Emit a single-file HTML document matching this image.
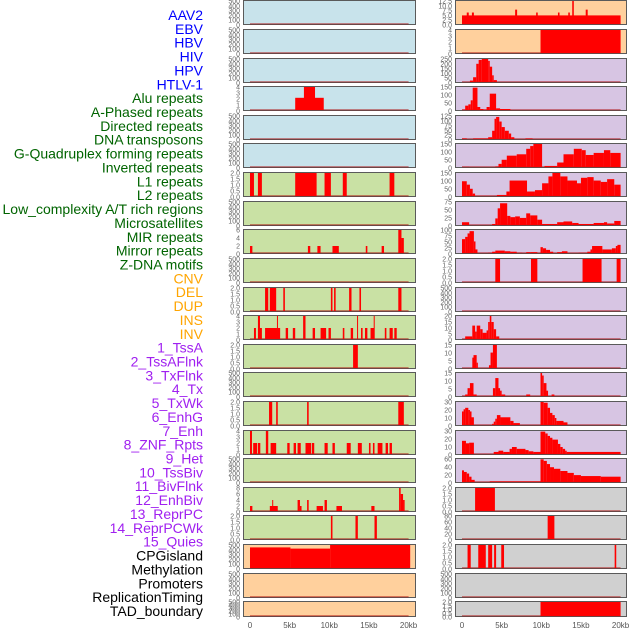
<!DOCTYPE html>
<html><head><meta charset="utf-8"><style>
html,body{margin:0;padding:0;background:#fff;}
#c{position:absolute;left:0;top:0;}
text{font-family:"Liberation Sans",sans-serif;}
</style></head><body>
<svg id="c" width="630" height="630" xmlns="http://www.w3.org/2000/svg"></svg>
<script>
const labelNames=["AAV2","EBV","HBV","HIV","HPV","HTLV-1","Alu repeats","A-Phased repeats","Directed repeats","DNA transposons","G-Quadruplex forming repeats","Inverted repeats","L1 repeats","L2 repeats","Low_complexity A/T rich regions","Microsatellites","MIR repeats","Mirror repeats","Z-DNA motifs","CNV","DEL","DUP","INS","INV","1_TssA","2_TssAFlnk","3_TxFlnk","4_Tx","5_TxWk","6_EnhG","7_Enh","8_ZNF_Rpts","9_Het","10_TssBiv","11_BivFlnk","12_EnhBiv","13_ReprPC","14_ReprPCWk","15_Quies","CPGisland","Methylation","Promoters","ReplicationTiming","TAD_boundary"];
const labelGroups=[6,13,5,15,5];
const groupColors=["#0000ff","#006400","#ffa500","#a020f0","#000000"];
const xTickLabels=["0","5kb","10kb","15kb","20kb"];
const xTickKb=[0,5,10,15,20];
const T500=["0","100","200","300","400","500"], T2=["0.0","0.5","1.0","1.5","2.0"], T4=["0","1","2","3","4"];
const leftBg=["b","b","b","b","b","b","g","g","g","g","g","g","g","g","g","g","g","g","g","o","o","o"];
const rightBg=["o","o","p","p","p","p","p","p","p","p","p","p","p","p","p","p","p","s","s","s","s","s"];
const leftMax=[500,500,500,4,500,500,2,500,6,500,2,4,2,500,2,4,500,8,2,500,500,500];
const rightMax=[12.5,4,250,180,130,175,175,95,105,2,500,20,19,19,33,39,76,2,80,2,500,2];
const leftTicks=[T500,T500,T500,T4,T500,T500,T2,T500,["0","2","4","6"],T500,T2,T4,T2,T500,T2,T4,T500,["0","2","4","6","8"],T2,T500,T500,T500];
const rightTicks=[["0.0","2.5","5.0","7.5","10.0","12.5"],T4,["0","50","100","150","200","250"],["0","50","100","150"],["0","25","50","75","100","125"],["0","50","100","150"],["0","50","100","150"],["0","25","50","75"],["0","25","50","75","100"],T2,T500,["0","5","10","15","20"],["0","5","10","15"],["0","5","10","15"],["0","10","20","30"],["0","10","20","30"],["0","20","40","60"],T2,["0","20","40","60","80"],T2,T500,T2];
const leftSegs=[[],[],[],
[[5.7,9.3,2.2],[6.8,8.2,4]],
[],[],
[[0,0.5,2],[1,1.5,2],[5.7,8.4,2],[9.4,10.2,2],[11.7,12.2,2],[17.6,18.2,2]],
[],
[[0,0.3,2],[7.3,7.6,2],[8.5,8.9,2],[10.4,11.2,2],[14.6,14.8,2],[16.6,16.9,2],[18.7,19.1,6],[19.1,19.4,4]],
[],
[[1.9,2.3,2],[2.5,3.3,2],[4.2,4.4,2],[10.2,10.4,2],[10.6,10.8,2],[12.5,12.8,2],[13.8,14,2],[18.7,19.1,2]],
[[0.5,0.75,2],[1.0,1.26,4],[1.26,1.5,2],[1.9,3.8,2],[3.4,3.5,4],[4.5,4.8,2],[5.4,5.7,2],[6.7,7.0,4],[7.9,8.2,2],[8.9,9.6,2],[9.9,10.2,2],[11.7,11.9,2],[12.7,13.0,2],[13.5,13.6,4],[14,14.2,2],[14.5,14.8,2],[15.2,15.7,2],[15.6,15.7,4],[17.0,17.2,2],[17.6,18.0,2],[18.2,18.5,2]],
[[13,13.6,2]],
[],
[[2.4,2.8,2],[3.3,3.5,2],[7.2,7.4,2],[18.7,19.4,2]],
[[0,0.25,4],[0.4,0.9,2],[1.0,1.3,2],[2.0,2.3,4],[2.6,3.3,2],[4.7,5.0,2],[5.5,5.8,2],[6.0,6.4,2],[7.0,7.7,2],[7.8,8.1,2],[9.4,9.8,2],[10.4,10.7,2],[12.2,12.7,2],[13.6,14.1,2],[15.0,15.2,2],[15.5,15.7,2],[16.1,16.7,2],[17.1,17.4,2],[17.6,17.9,2]],
[],
[[0,0.3,2],[2.5,3.5,2],[2.8,2.9,4],[6.0,6.3,4],[6.3,6.5,2],[7.2,7.4,4],[8.4,9.2,2],[9.4,9.7,4],[10.9,11.6,2],[15.3,15.7,2],[18.8,19.0,8],[19.0,19.3,6],[19.3,19.5,4]],
[[10.2,10.4,2],[13.3,13.6,2],[15.7,16.0,2]],
[[0,5.1,450],[5.1,10.1,425],[10.1,20.2,500]],
[],[]];
const rightSegs=[
[[0,20,5],[0.6,0.85,6.5],[1.25,1.5,6.5],[6.7,6.95,8],[9.35,9.55,6.5],[12.1,12.3,6.5],[13.4,13.6,6.5],[13.9,14.1,12.5],[15.6,15.85,8]],
[[9.9,20,4]],
[[0.2,0.6,3],[0.6,1.0,10],[1.0,1.4,25],[1.4,1.8,60],[1.8,2.1,200],[2.1,2.5,240],[2.5,3.3,250],[3.3,3.5,230],[3.5,3.8,170],[3.8,4.0,80],[4.0,4.4,30],[4.4,5.9,10],[9.9,10.5,10]],
[[0,0.4,10],[0.4,0.8,40],[0.8,1.1,50],[1.1,1.35,80],[1.35,1.95,175],[1.95,2.3,30],[2.3,2.7,15],[2.7,3.1,10],[3.1,3.5,30],[3.5,4.3,130],[4.3,4.8,20],[4.8,6.1,15],[6.1,6.8,5],[16.7,17.5,5]],
[[0,0.6,8],[1.4,3.3,8],[3.3,3.8,15],[3.8,4.1,50],[4.1,4.3,115],[4.3,4.7,125],[4.7,5.0,100],[5.0,5.4,70],[5.4,5.9,50],[5.9,6.2,35],[6.2,6.6,15],[8.0,8.9,8]],
[[0,0.9,8],[4.2,4.6,10],[4.6,5.0,30],[5.0,5.65,60],[5.65,6.9,90],[6.9,8.1,100],[8.1,8.6,140],[8.6,9.0,160],[9.0,10.1,175],[10.4,12.0,15],[12.0,12.8,40],[12.8,14.1,100],[14.1,15.1,140],[15.1,15.6,130],[15.6,16.6,95],[16.6,17.9,110],[17.9,18.7,130],[18.7,20,110]],
[[0,0.6,115],[0.6,1.0,90],[1.0,1.35,60],[1.35,1.65,25],[1.65,4.4,8],[4.4,5.6,15],[5.6,6.0,40],[6.0,8.2,120],[8.2,9.2,40],[9.2,10.1,50],[10.1,10.9,100],[10.9,11.4,150],[11.4,12.4,175],[12.4,13.3,150],[13.3,14.5,120],[14.5,15.0,100],[15.0,15.8,140],[15.8,16.6,145],[16.6,17.5,120],[17.5,18.3,110],[18.3,19.2,130],[19.2,20,90]],
[[0,0.9,15],[0.9,3.8,3],[3.8,4.2,8],[4.2,4.5,30],[4.5,4.8,70],[4.8,5.7,90],[5.7,6.1,40],[6.1,6.7,35],[6.7,7.3,38],[7.3,8.1,32],[8.1,8.6,50],[8.6,9.5,42],[9.5,10.1,25],[10.1,12.0,8],[12.0,12.8,15],[12.8,13.9,18],[13.9,14.7,12],[14.7,16.6,8],[16.6,17.9,12],[17.9,18.3,15],[18.3,19.2,10],[19.2,20,20]],
[[0,0.4,65],[0.4,0.7,75],[0.7,0.95,90],[0.95,1.5,100],[1.5,1.7,55],[1.7,1.95,20],[3.3,3.8,5],[3.8,4.2,10],[4.2,5.4,15],[5.4,6.1,12],[6.1,6.9,10],[6.9,7.6,5],[8.1,8.6,8],[8.6,9.5,8],[9.9,10.2,30],[10.2,10.6,25],[10.6,11.1,18],[11.1,11.5,10],[12.0,12.6,8],[12.6,13.3,12],[14.7,15.8,5],[15.8,16.2,10],[16.2,16.4,20],[16.4,17.7,35],[17.7,18.9,20],[18.9,19.4,25],[19.4,19.6,35],[19.6,20,40]],
[[4.2,4.8,2],[8.7,9.5,2],[15.2,17.6,2],[19.5,20,2]],
[],
[[0.4,1.3,3],[1.3,1.65,12],[1.65,1.85,7],[1.85,2.3,12],[2.3,2.6,9],[2.6,3.1,6],[3.1,3.3,8],[3.3,3.5,15],[3.5,3.7,20],[3.7,4.0,15],[4.0,4.3,9],[4.3,4.7,3]],
[[1.3,1.45,9],[1.45,1.85,11],[1.85,2.0,5],[3.4,3.6,3],[3.6,3.9,13],[3.9,4.4,19]],
[[0.4,0.7,2],[0.7,1.0,7],[1.0,1.45,11],[1.45,1.85,2],[3.9,4.2,7],[4.2,4.6,15],[4.6,4.8,7],[4.8,5.0,5],[5.0,5.45,2],[8.1,8.6,2],[9.9,10.1,19],[10.1,10.3,17],[10.3,10.65,11],[10.65,10.85,5],[11.3,11.65,2]],
[[0,0.2,20],[0.2,0.4,23],[0.4,0.8,25],[0.8,1.0,22],[1.0,1.2,20],[1.2,1.5,12],[3.8,4.0,3],[4.0,4.2,6],[4.2,4.4,10],[4.4,4.85,15],[4.85,6.1,12],[6.1,6.5,7],[6.5,7.3,4],[9.9,10.3,33],[10.3,10.8,32],[10.8,11.1,25],[11.1,11.4,18],[11.4,11.7,15],[11.7,11.9,11],[11.9,12.8,7],[12.8,13.3,5]],
[[0,0.5,23],[0.5,0.9,19],[0.9,1.5,20],[1.5,4.0,1],[4.0,4.6,5],[4.6,5.2,7],[5.2,6.0,5],[6.0,6.3,10],[6.3,6.9,13],[6.9,8.0,10],[8.0,8.4,8],[8.4,9.0,6],[9.0,9.9,5],[9.9,10.5,38],[10.5,10.8,35],[10.8,11.1,31],[11.1,11.4,28],[11.4,12.1,25],[12.1,12.4,18],[12.4,12.7,13],[12.7,13.0,10],[13.0,13.2,7],[13.2,20,5]],
[[0,0.25,40],[0.25,0.6,35],[0.6,0.9,30],[0.9,1.2,20],[1.2,1.6,10],[1.6,3.5,1],[3.5,9.9,5],[9.9,10.3,75],[10.3,10.7,70],[10.7,11.1,60],[11.1,11.6,50],[11.6,12.4,45],[12.4,13.3,38],[13.3,14.1,32],[14.1,15.0,25],[15.0,17.5,22],[17.5,20,20]],
[[1.65,4.15,2]],
[[10.8,11.65,80]],
[[0.7,1.1,2],[2.05,3.0,2],[3.3,3.8,2],[4.05,4.3,2],[4.95,5.3,2],[19.25,19.45,2]],
[],
[[9.9,20,2]]];

const NS="http://www.w3.org/2000/svg";
const svg=document.getElementById('c');
const BG={b:"#c8e3eb",g:"#c9e1a4",o:"#ffd09d",p:"#d7c5e3",s:"#d0d0d0"};
function mk(t,a){const e=document.createElementNS(NS,t);for(const k in a)e.setAttribute(k,a[k]);svg.appendChild(e);return e;}
function panelTop(i){return Math.round(0.3+28.62*i);}
function panelH(i){return i===21?16:25;}
const cols=[{x0:243,x1:416,zero:250,segs:leftSegs,max:leftMax,ticks:leftTicks,bg:leftBg,name:"left"},
            {x0:455,x1:627,zero:462,segs:rightSegs,max:rightMax,ticks:rightTicks,bg:rightBg,name:"right"}];
const PXKB=7.93;
cols.forEach(c=>{
  const xs=kb=>c.zero+kb*PXKB;
  for(let i=0;i<22;i++){
    const top=panelTop(i),h=panelH(i),bot=top+h;
    const ys=v=>bot-(v/c.max[i])*(h-1);
    const r=mk('rect',{x:c.x0+0.5,y:top+0.5,width:c.x1-c.x0-1,height:h-1,fill:BG[c.bg[i]],stroke:"#5a5a5a","stroke-width":1});
    
    
    const bl=mk('rect',{x:xs(0),y:bot-2,width:xs(20)-xs(0),height:1.5,fill:"rgba(170,0,0,0.45)"});
    
    
    c.segs[i].forEach(s=>{
      const y=Math.max(ys(s[2]),top+1);
      const b=mk('rect',{x:xs(s[0]),y:y,width:Math.max(xs(s[1])-xs(s[0]),1),height:bot-1-y,fill:"#ff0000"});
      
      
    });
    const tk=c.ticks[i];
    tk.forEach((t,j)=>{
      const v=parseFloat(t);
      const y=bot-(v/parseFloat(tk[tk.length-1]))*(h-1);
      const te=mk('text',{x:c.x0-3,y:y+2.5,"font-size":7,fill:"#666","text-anchor":"end"});
      te.textContent=t;
      
      
    });
  }
  xTickKb.forEach((k,j)=>{
    const te=mk('text',{x:xs(k),y:628,"font-size":8,fill:"#555","text-anchor":"middle"});
    te.textContent=xTickLabels[j];
    
    
  });
});
let idx=0;
labelGroups.forEach((n,g)=>{
  for(let k=0;k<n;k++){
    const y=15+idx*13.86+5;
    const te=mk('text',{x:203,y:y,"font-size":14,fill:groupColors[g],"text-anchor":"end"});
    te.textContent=labelNames[idx];
    
    
    idx++;
  }
});
</script>
</body></html>
